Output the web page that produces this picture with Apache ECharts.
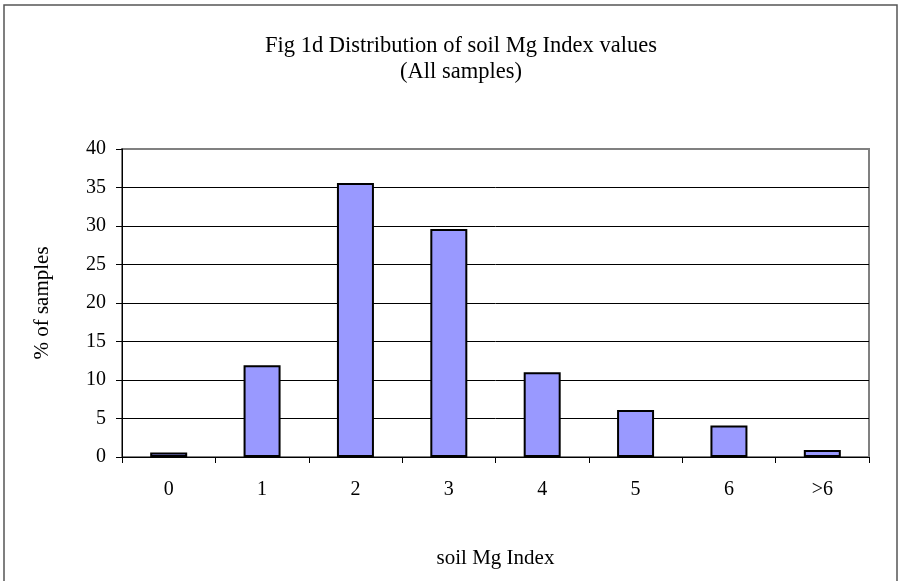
<!DOCTYPE html>
<html>
<head>
<meta charset="utf-8">
<script src="https://cdn.jsdelivr.net/npm/echarts@6/dist/echarts.min.js"></script>
<style>
  html, body { margin: 0; padding: 0; background: #fff; }
  #chart { width: 900px; height: 581px; }
</style>
</head>
<body>
<div id="chart"></div>
<script type="text/javascript">
var categories = ['0', '1', '2', '3', '4', '5', '6', '>6'];
var pctSamples = [0.6, 11.9, 35.6, 29.6, 11, 6.1, 4.1, 0.9];
var yTicks = { min: 0, max: 40, step: 5 };

var serif = 'Liberation Serif';
var chart = echarts.init(document.getElementById('chart'));

// grid lines black, the top one is the grey plot border
var gridColors = [];
for (var v = yTicks.min; v <= yTicks.max; v += yTicks.step) {
    gridColors.push(v === yTicks.max ? '#808080' : '#000');
}

var option = {
    backgroundColor: '#fff',
    animation: false,
    graphic: [
        {
            type: 'rect',
            shape: { x: 4, y: 5, width: 893, height: 600 },
            style: { fill: 'none', stroke: '#555', lineWidth: 1.5 },
            z: -1
        }
    ],
    title: {
        text: 'Fig 1d Distribution of soil Mg Index values\n(All samples)',
        left: 456,
        top: 28,
        textAlign: 'center',
        textStyle: { fontFamily: serif, fontSize: 22.5, fontWeight: 'normal', color: '#000', lineHeight: 26 }
    },
    grid: {
        left: 122,
        right: 31,
        top: 149,
        bottom: 124,
        show: true,
        borderColor: '#808080',
        borderWidth: 2,
        backgroundColor: '#fff'
    },
    xAxis: {
        type: 'category',
        data: categories,
        boundaryGap: true,
        name: 'soil Mg Index',
        nameLocation: 'middle',
        nameGap: 91,
        nameTextStyle: { fontFamily: serif, fontSize: 21, color: '#000' },
        axisLine: { lineStyle: { color: '#000', width: 1 } },
        axisTick: { show: true, inside: false, length: 6, lineStyle: { color: '#000' } },
        axisLabel: { fontFamily: serif, fontSize: 20, color: '#000', margin: 23 }
    },
    yAxis: {
        type: 'value',
        min: yTicks.min,
        max: yTicks.max,
        interval: yTicks.step,
        name: '% of samples',
        nameLocation: 'middle',
        nameGap: 69,
        nameRotate: 90,
        nameTextStyle: { fontFamily: serif, fontSize: 21, color: '#000' },
        axisLine: { show: true, lineStyle: { color: '#000', width: 1 } },
        axisTick: { show: true, inside: false, length: 6, lineStyle: { color: '#000' } },
        axisLabel: { fontFamily: serif, fontSize: 20, color: '#000', margin: 16 },
        splitLine: { show: true, lineStyle: { color: gridColors, width: 1 } }
    },
    series: [
        {
            name: '% of samples',
            type: 'bar',
            data: pctSamples,
            barWidth: 37,
            itemStyle: { color: '#9999FF', borderColor: '#000', borderWidth: 2 }
        }
    ]
};
chart.setOption(option);
</script>
</body>
</html>
